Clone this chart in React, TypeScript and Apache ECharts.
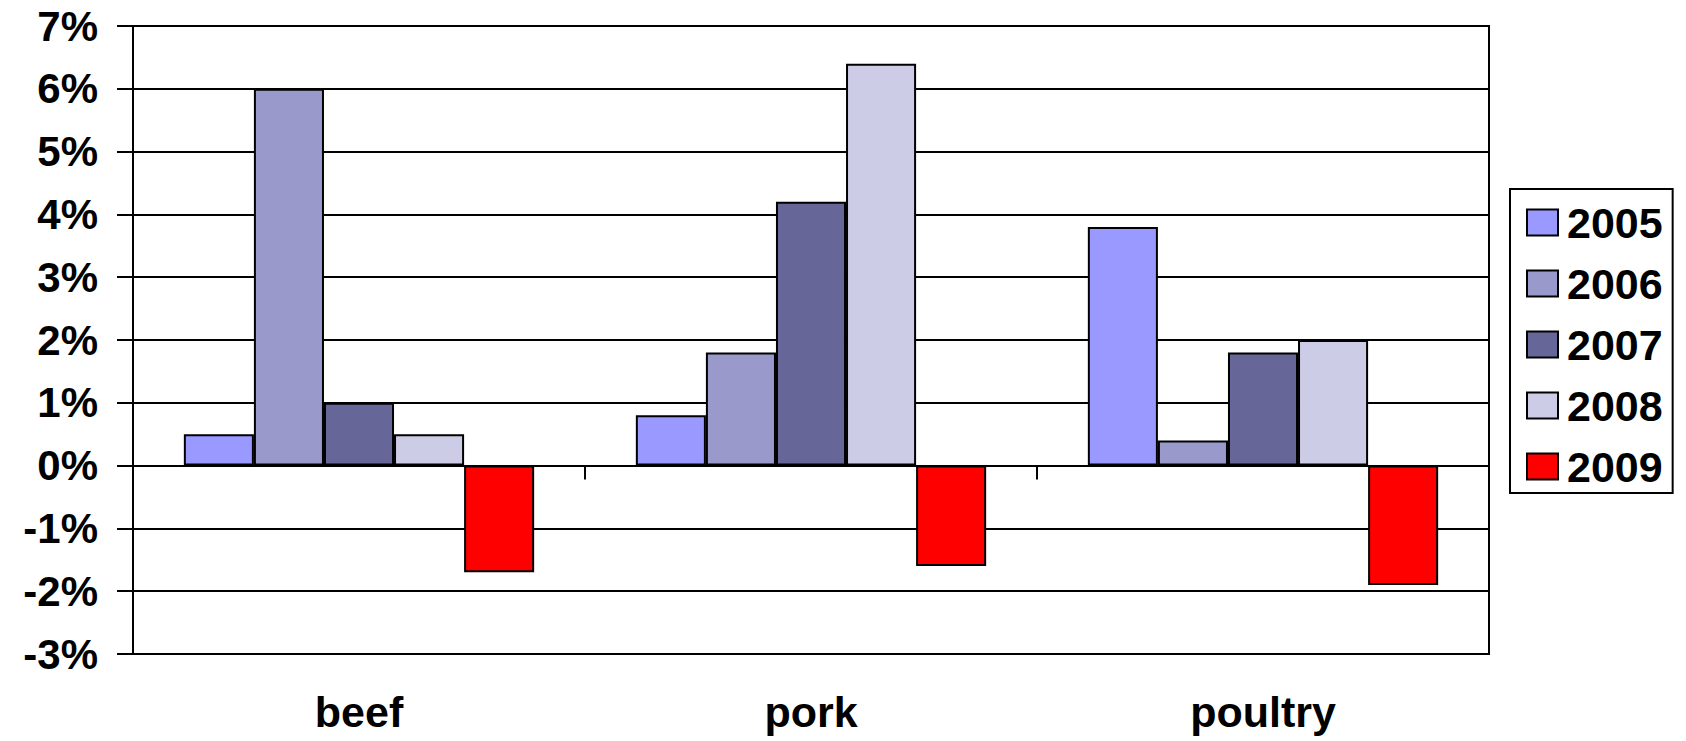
import React, { useEffect, useRef } from "react";
import * as echarts from "echarts";

const categories = ["beef", "pork", "poultry"];
const seriesNames = ["2005", "2006", "2007", "2008", "2009"];
const v2005 = [0.5, 0.8, 3.8];
const v2006 = [6.0, 1.8, 0.4];
const v2007 = [1.0, 4.2, 1.8];
const v2008 = [0.5, 6.4, 2.0];
const v2009 = [-1.7, -1.6, -1.9];
const seriesValues = [v2005, v2006, v2007, v2008, v2009];
const colors = ["#9999FF", "#9999CC", "#666699", "#CCCCE6", "#FF0000"];

const FONT = "'Liberation Sans', Arial, sans-serif";

export default function App() {
  const ref = useRef<HTMLDivElement>(null);
  useEffect(() => {
    if (!ref.current) return;
    const chart = echarts.init(ref.current, null, { renderer: "svg" });
    chart.setOption({
      animation: false,
      backgroundColor: "#ffffff",
      grid: {
        left: 133,
        right: 197,
        top: 26,
        bottom: 87,
        show: true,
        borderColor: "#000",
        borderWidth: 2,
        backgroundColor: "transparent",
      },
      legend: {
        orient: "vertical",
        left: 1510,
        top: 189,
        padding: [12, 10, 5, 16],
        itemWidth: 31,
        itemHeight: 26,
        itemGap: 18,
        icon: "rect",
        borderColor: "#000",
        borderWidth: 2,
        textStyle: {
          fontFamily: FONT,
          fontWeight: "bold",
          fontSize: 43,
          lineHeight: 42,
          color: "#000",
          padding: [0, 0, 0, 4],
        },
        data: seriesNames,
      },
      xAxis: [
        {
          type: "category",
          data: categories,
          axisLine: { onZero: true, lineStyle: { color: "#000", width: 2 } },
          axisTick: { show: true, inside: false, length: 14, lineStyle: { color: "#000", width: 2 } },
          axisLabel: { show: false },
        },
        {
          type: "category",
          data: categories,
          position: "bottom",
          axisLine: { show: false, onZero: false },
          axisTick: { show: false },
          axisLabel: {
            show: true,
            margin: 36,
            fontFamily: FONT,
            fontWeight: "bold",
            fontSize: 43,
            lineHeight: 44,
            color: "#000",
          },
        },
      ],
      yAxis: {
        type: "value",
        min: -3,
        max: 7,
        interval: 1,
        axisLine: { show: true, lineStyle: { color: "#000", width: 2 } },
        axisTick: { show: true, inside: false, length: 16, lineStyle: { color: "#000", width: 2 } },
        splitLine: { show: true, lineStyle: { color: "#000", width: 2 } },
        axisLabel: {
          formatter: "{value}%",
          margin: 35,
          fontFamily: FONT,
          fontWeight: "bold",
          fontSize: 42,
          color: "#000",
        },
      },
      series: seriesNames.map((name, i) => ({
        name,
        type: "bar",
        xAxisIndex: 0,
        data: seriesValues[i],
        barGap: "0%",
        barCategoryGap: "22.5%",
        itemStyle: { color: colors[i], borderColor: "#000", borderWidth: 2 },
      })),
    });
    return () => chart.dispose();
  }, []);
  return (
    <div
      ref={ref}
      style={{ position: "fixed", left: 0, top: 0, width: 1686, height: 741 }}
    />
  );
}
